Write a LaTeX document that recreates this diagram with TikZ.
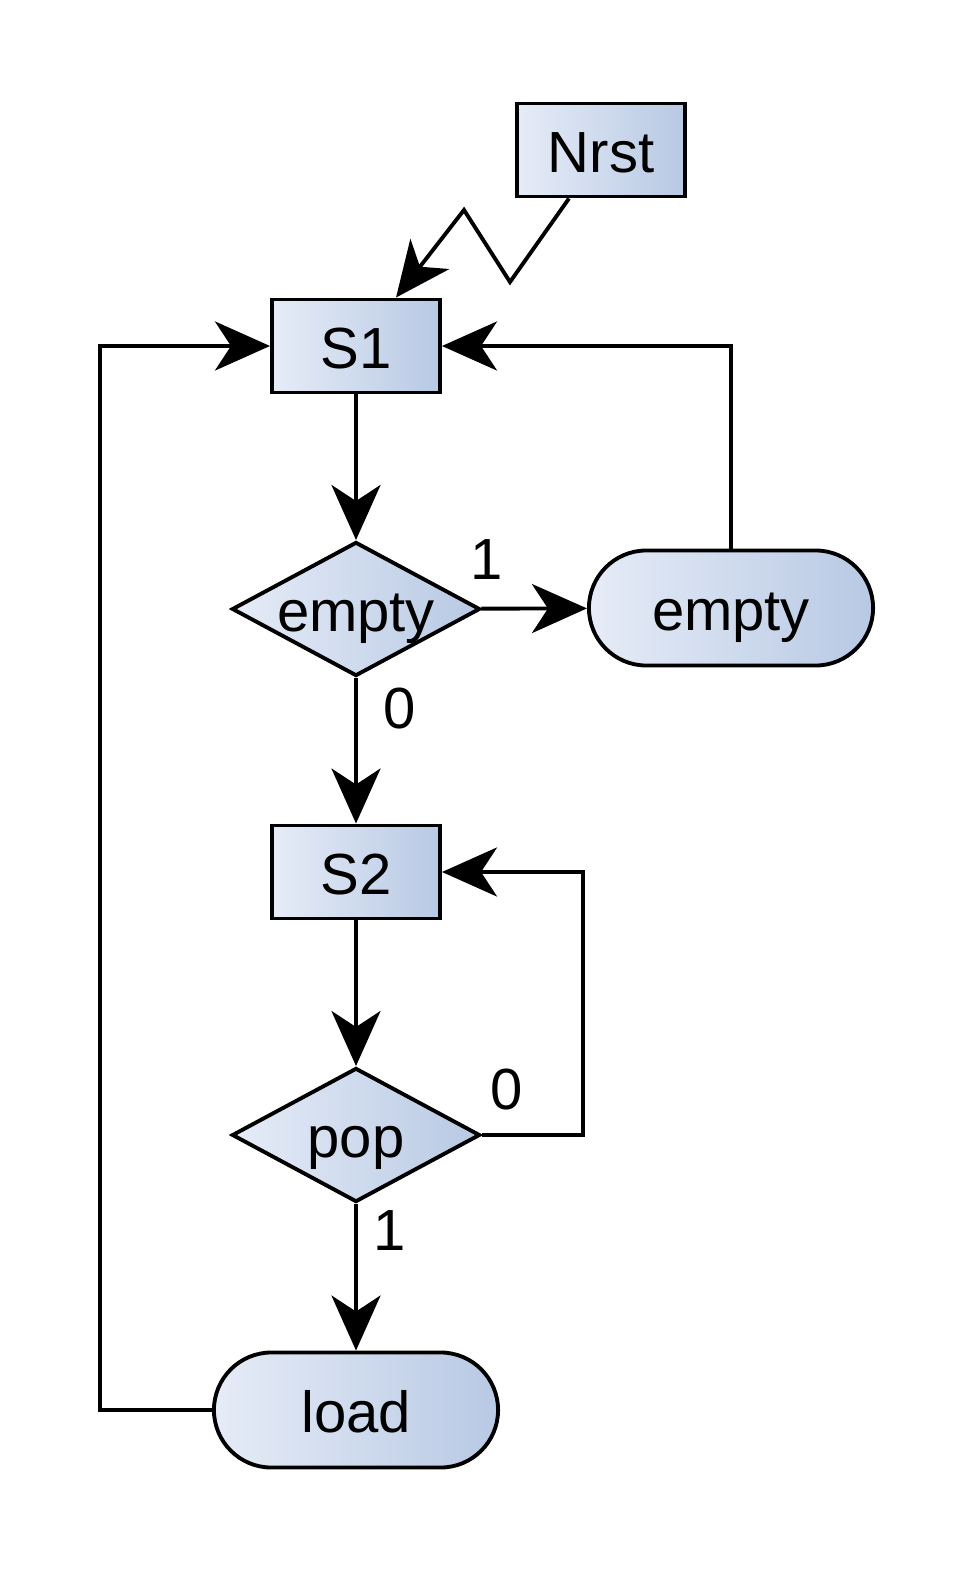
\documentclass[tikz,border=0pt]{standalone}
\usepackage{fontspec}
\setmainfont{Liberation Sans}
\usetikzlibrary{arrows.meta}
\usetikzlibrary{shapes.geometric}

\definecolor{fillL}{RGB}{230,236,247}
\definecolor{fillR}{RGB}{184,201,228}

\tikzset{
	txt/.style={text height=13pt, text depth=0pt},
	base/.style={draw=black, line width=1.1pt, left color=fillL, right color=fillR, inner sep=0pt, txt},
	statebox/.style={base, rectangle, minimum width=1.68cm, minimum height=0.93cm},
	decision/.style={base, diamond, minimum width=2.48cm, minimum height=1.34cm},
	terminal/.style={base, rectangle, rounded corners=0.575cm, minimum width=2.84cm, minimum height=1.15cm},
	arr/.style={line width=1.1pt, -{Stealth[length=5.5mm,width=4.9mm,inset=1.6mm]}},
	lbl/.style={inner sep=0pt}
}

\begin{document}
\begin{tikzpicture}[x=0.01cm, y=-0.01cm, font=\fontsize{16.5}{19}\selectfont]
		% ---- Canvas (pixel grid of the reference) ----
		\useasboundingbox (0,0) rectangle (975,1570);
		
		% ---- States ----
		\node[statebox] (nrst) at (601,150) {Nrst};
		\node[statebox] (s1) at (356,346) {S1};
		\node[statebox] (s2) at (356,872) {S2};
		
		% ---- Decisions ----
		\node[decision, label={[txt]center:empty}] (qempty) at (356,609) {};
		\node[decision, label={[txt]center:pop}] (qpop) at (356,1135) {};
		
		% ---- Actions ----
		\node[terminal] (aempty) at (731,608) {empty};
		\node[terminal] (aload) at (356,1410) {load};
		
		% ---- Reset (zigzag) ----
		\coordinate (z1) at (510,282);
		\coordinate (z2) at (464,210);
		\draw[arr] ([xshift=-0.32cm]nrst.south) -- (z1) -- (z2) -- ([xshift=0.4cm]s1.north);
		
		% ---- Main flow ----
		\draw[arr] (s1) -- (qempty);
		\draw[arr] (qempty) -- (aempty);
		\draw[arr] (qempty) -- (s2);
		\draw[arr] (s2) -- (qpop);
		\draw[arr] (qpop) -- (aload);
		
		% ---- Loops back ----
		\draw[arr] (aempty.north) |- (s1.east);
		\draw[arr] (qpop.east) -- ++(101,0) |- (s2.east);
		\draw[arr] (aload.west) -- ++(-112,0) |- (s1.west);
		
		% ---- Branch labels ----
		\node[lbl] (t1) at (487,560) {1};
		\node[lbl] (t2) at (400,709) {0};
		\node[lbl] (t3) at (507,1090) {0};
		\node[lbl] (t4) at (390,1231) {1};
		
	\end{tikzpicture}
\end{document}
